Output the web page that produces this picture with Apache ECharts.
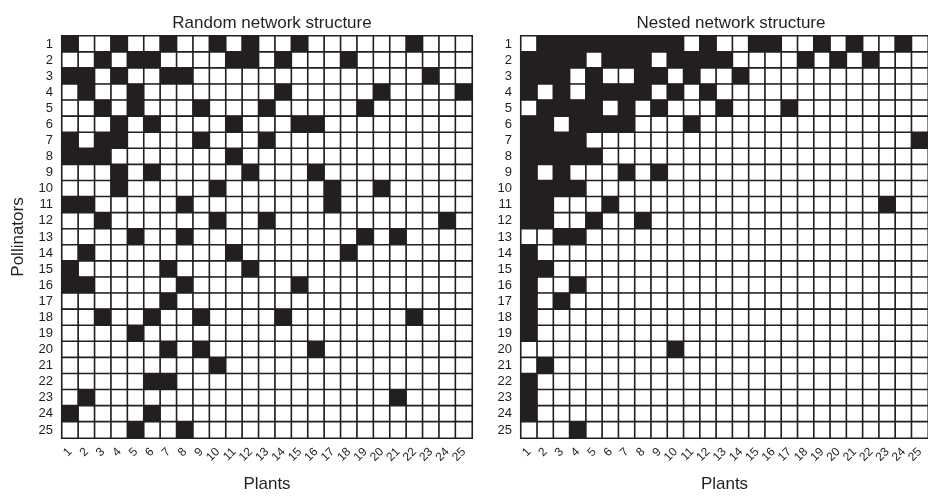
<!DOCTYPE html>
<html>
<head>
<meta charset="utf-8">
<script src="https://cdn.jsdelivr.net/npm/echarts@6/dist/echarts.min.js"></script>
<style>
  html, body { margin: 0; padding: 0; background: #fff; }
  #main { width: 928px; height: 498px; }
</style>
</head>
<body>
<div id="main"></div>
<script>
// labels 1..25 for both axes
const plantLabels = ['1','2','3','4','5','6','7','8','9','10','11','12','13','14','15','16','17','18','19','20','21','22','23','24','25'];
const pollinatorLabels = ['1','2','3','4','5','6','7','8','9','10','11','12','13','14','15','16','17','18','19','20','21','22','23','24','25'];

// for each pollinator (row) the plants (columns) that are linked - filled cells
const randomRows = [
    [1, 4, 7, 10, 12, 15, 22],
    [3, 5, 6, 11, 12, 14, 18],
    [1, 2, 4, 7, 8, 23],
    [2, 5, 14, 20, 25],
    [3, 5, 9, 13, 19],
    [4, 6, 11, 15, 16],
    [1, 3, 4, 9, 13],
    [1, 2, 3, 11],
    [4, 6, 12, 16],
    [4, 10, 17, 20],
    [1, 2, 8, 17],
    [3, 10, 13, 24],
    [5, 8, 19, 21],
    [2, 11, 18],
    [1, 7, 12],
    [1, 2, 8, 15],
    [7],
    [3, 6, 9, 14, 22],
    [5],
    [7, 9, 16],
    [10],
    [6, 7],
    [2, 21],
    [1, 6],
    [5, 8]
];

const nestedRows = [
    [2, 3, 4, 5, 6, 7, 8, 9, 10, 12, 15, 16, 19, 21, 24],
    [1, 2, 3, 4, 6, 7, 8, 10, 11, 12, 13, 18, 20, 22],
    [1, 2, 3, 5, 8, 9, 11, 14],
    [1, 3, 5, 6, 7, 8, 10, 12],
    [2, 3, 4, 5, 7, 9, 13, 17],
    [1, 2, 4, 5, 6, 7, 11],
    [1, 2, 3, 4, 25],
    [1, 2, 3, 4, 5],
    [1, 3, 7, 9],
    [1, 2, 3, 4],
    [1, 2, 6, 23],
    [1, 2, 5, 8],
    [3, 4],
    [1],
    [1, 2],
    [1, 4],
    [1, 3],
    [1],
    [1],
    [10],
    [2],
    [1],
    [1],
    [1],
    [4]
];

function buildCells(rows) {
    const out = [];
    for (let r = 0; r < pollinatorLabels.length; r++) {
        for (let c = 0; c < plantLabels.length; c++) {
            const filled = rows[r].indexOf(c + 1) >= 0 ? 1 : 0;
            out.push([c, r, filled]);
        }
    }
    return out;
}

const chart = echarts.init(document.getElementById('main'));
const ink = '#231f20';
const font = '"Liberation Sans", Arial, sans-serif';

function xAxisFor(gridIndex) {
    return {
        type: 'category',
        gridIndex: gridIndex,
        data: plantLabels,
        name: 'Plants',
        nameLocation: 'middle',
        nameGap: 38,
        nameTextStyle: { fontSize: 17, color: ink, fontFamily: font },
        axisLine: { show: false },
        axisTick: { show: false },
        splitLine: { show: false },
        splitArea: { show: false },
        axisLabel: { rotate: 45, fontSize: 12, color: ink, margin: 12, interval: 0, fontFamily: font }
    };
}

function yAxisFor(gridIndex, withName) {
    return {
        type: 'category',
        gridIndex: gridIndex,
        data: pollinatorLabels,
        inverse: true,
        name: withName ? 'Pollinators' : '',
        nameLocation: 'middle',
        nameGap: 35,
        nameTextStyle: { fontSize: 17, color: ink, fontFamily: font },
        axisLine: { show: false },
        axisTick: { show: false },
        splitLine: { show: false },
        splitArea: { show: false },
        axisLabel: { fontSize: 13, color: ink, margin: 9, interval: 0, fontFamily: font }
    };
}

const option = {
    backgroundColor: '#fff',
    animation: false,
    title: [
        {
            text: 'Random network structure',
            left: 267, top: 10, textAlign: 'center',
            textStyle: { fontSize: 17, fontWeight: 'normal', color: ink, fontFamily: font }
        },
        {
            text: 'Nested network structure',
            left: 726, top: 10, textAlign: 'center',
            textStyle: { fontSize: 17, fontWeight: 'normal', color: ink, fontFamily: font }
        }
    ],
    grid: [
        { left: 62, top: 36, width: 410, height: 410 },
        { left: 521, top: 36, width: 410, height: 410 }
    ],
    xAxis: [xAxisFor(0), xAxisFor(1)],
    yAxis: [yAxisFor(0, true), yAxisFor(1, false)],
    visualMap: {
        type: 'piecewise',
        show: false,
        seriesIndex: [0, 1],
        dimension: 2,
        pieces: [
            { value: 0, color: '#ffffff' },
            { value: 1, color: ink }
        ]
    },
    series: [
        {
            name: 'Random',
            type: 'heatmap',
            xAxisIndex: 0,
            yAxisIndex: 0,
            data: buildCells(randomRows),
            itemStyle: { borderColor: ink, borderWidth: 1.6 },
            emphasis: { disabled: true }
        },
        {
            name: 'Nested',
            type: 'heatmap',
            xAxisIndex: 1,
            yAxisIndex: 1,
            data: buildCells(nestedRows),
            itemStyle: { borderColor: ink, borderWidth: 1.6 },
            emphasis: { disabled: true }
        }
    ]
};

chart.setOption(option);

window.addEventListener('resize', function() {
    chart.resize();
});
</script>
</body>
</html>
